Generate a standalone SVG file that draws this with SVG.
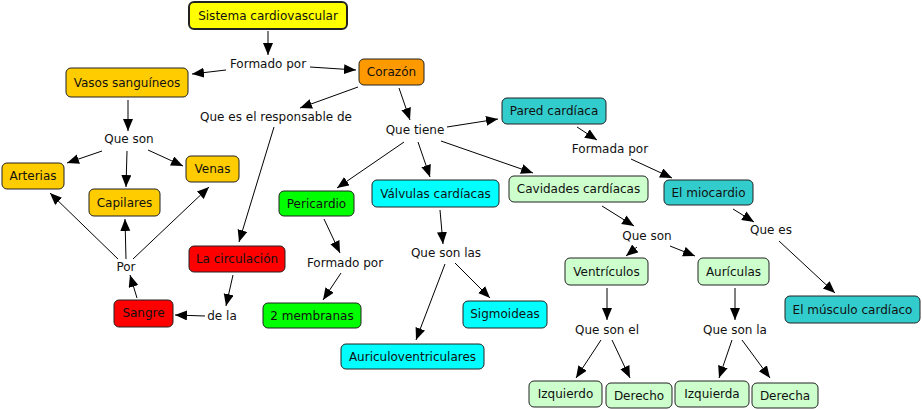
<svg xmlns="http://www.w3.org/2000/svg" width="922" height="410" viewBox="0 0 922 410">
<defs>
<marker id="ah" markerUnits="userSpaceOnUse" markerWidth="13" markerHeight="11" refX="12" refY="5" orient="auto"><path d="M0,0 L12,5 L0,10 z" fill="#000"/></marker>
<style>
.n rect{stroke:#222;stroke-width:1}
.n text,.l{font-family:"DejaVu Sans",Verdana,sans-serif;font-size:12px;fill:#111;text-anchor:middle;dominant-baseline:central}
#conn line{stroke:#000;stroke-width:1;marker-end:url(#ah)}
</style>
</defs>
<rect width="922" height="410" fill="#fff"/>
<g id="conn">
<line x1="268" y1="31" x2="268" y2="55"/>
<line x1="226" y1="70" x2="192" y2="74"/>
<line x1="310" y1="67" x2="356" y2="70"/>
<line x1="358" y1="87" x2="300" y2="108"/>
<line x1="399" y1="88" x2="410" y2="120"/>
<line x1="128" y1="100" x2="128" y2="131"/>
<line x1="102" y1="151" x2="67" y2="163"/>
<line x1="127" y1="151" x2="126" y2="187"/>
<line x1="148" y1="150" x2="183" y2="166"/>
<line x1="274" y1="127" x2="239" y2="242"/>
<line x1="233" y1="275" x2="226" y2="306"/>
<line x1="205" y1="316" x2="175" y2="315"/>
<line x1="137" y1="298" x2="130" y2="275"/>
<line x1="118" y1="259" x2="50" y2="193"/>
<line x1="126" y1="259" x2="125" y2="219"/>
<line x1="133" y1="259" x2="209" y2="187"/>
<line x1="404" y1="142" x2="337" y2="188"/>
<line x1="418" y1="142" x2="430" y2="177"/>
<line x1="441" y1="141" x2="533" y2="173"/>
<line x1="447" y1="127" x2="498" y2="119"/>
<line x1="577" y1="127" x2="597" y2="140"/>
<line x1="631" y1="159" x2="672" y2="178"/>
<line x1="324" y1="219" x2="340" y2="253"/>
<line x1="341" y1="273" x2="323" y2="300"/>
<line x1="440" y1="210" x2="443" y2="244"/>
<line x1="445" y1="264" x2="416" y2="340"/>
<line x1="455" y1="263" x2="490" y2="298"/>
<line x1="602" y1="206" x2="634" y2="226"/>
<line x1="637" y1="247" x2="626" y2="256"/>
<line x1="670" y1="246" x2="695" y2="256"/>
<line x1="733" y1="209" x2="754" y2="222"/>
<line x1="779" y1="241" x2="835" y2="293"/>
<line x1="607" y1="288" x2="607" y2="320"/>
<line x1="735" y1="288" x2="735" y2="320"/>
<line x1="601" y1="340" x2="576" y2="378"/>
<line x1="612" y1="340" x2="630" y2="378"/>
<line x1="732" y1="340" x2="719" y2="378"/>
<line x1="742" y1="340" x2="770" y2="378"/>
</g>
<g id="labels">
<text class="l" x="268" y="64">Formado por</text>
<text class="l" x="276" y="117">Que es el responsable de</text>
<text class="l" x="415" y="130">Que tiene</text>
<text class="l" x="129" y="139">Que son</text>
<text class="l" x="126" y="267">Por</text>
<text class="l" x="222" y="316">de la</text>
<text class="l" x="345" y="263">Formado por</text>
<text class="l" x="446" y="253">Que son las</text>
<text class="l" x="610" y="149">Formada por</text>
<text class="l" x="771" y="230">Que es</text>
<text class="l" x="647" y="236">Que son</text>
<text class="l" x="607" y="330">Que son el</text>
<text class="l" x="735" y="330">Que son la</text>
</g>
<g id="n-sistema" class="n"><rect x="189" y="2" width="158" height="27" rx="5" fill="#FFFF00" style="stroke-width:2"/><text x="268" y="15.5">Sistema cardiovascular</text></g>
<g id="n-vasos" class="n"><rect x="66" y="68" width="122" height="29" rx="5" fill="#FFCC00"/><text x="127" y="82.5">Vasos sanguíneos</text></g>
<g id="n-corazon" class="n"><rect x="359" y="59" width="65" height="26" rx="5" fill="#FF9900"/><text x="391.5" y="72">Corazón</text></g>
<g id="n-arterias" class="n"><rect x="2" y="163" width="62" height="26" rx="5" fill="#FFCC00"/><text x="33" y="176">Arterias</text></g>
<g id="n-venas" class="n"><rect x="186" y="156" width="53" height="26" rx="5" fill="#FFCC00"/><text x="212.5" y="169">Venas</text></g>
<g id="n-capilares" class="n"><rect x="89" y="189" width="71" height="27" rx="5" fill="#FFCC00"/><text x="124.5" y="202.5">Capilares</text></g>
<g id="n-circulacion" class="n"><rect x="189" y="246" width="96" height="26" rx="5" fill="#FF0000"/><text x="237" y="259">La circulación</text></g>
<g id="n-sangre" class="n"><rect x="114" y="300" width="59" height="27" rx="5" fill="#FF0000"/><text x="143.5" y="313">Sangre</text></g>
<g id="n-pericardio" class="n"><rect x="279" y="191" width="75" height="25" rx="5" fill="#00FF00"/><text x="316.5" y="203.5">Pericardio</text></g>
<g id="n-membranas" class="n"><rect x="263" y="303" width="98" height="25" rx="5" fill="#00FF00"/><text x="312" y="315.5">2 membranas</text></g>
<g id="n-valvulas" class="n"><rect x="372" y="180" width="127" height="27" rx="5" fill="#00FFFF"/><text x="435.5" y="193.5">Válvulas cardíacas</text></g>
<g id="n-auriculov" class="n"><rect x="341" y="344" width="143" height="25" rx="5" fill="#00FFFF"/><text x="412.5" y="356.5">Auriculoventriculares</text></g>
<g id="n-sigmoideas" class="n"><rect x="463" y="301" width="84" height="27" rx="5" fill="#00FFFF"/><text x="505" y="314">Sigmoideas</text></g>
<g id="n-cavidades" class="n"><rect x="509" y="176" width="139" height="26" rx="5" fill="#CCFFCC"/><text x="578.5" y="189">Cavidades cardíacas</text></g>
<g id="n-pared" class="n"><rect x="502" y="98" width="104" height="26" rx="5" fill="#33CCCC"/><text x="554" y="111">Pared cardíaca</text></g>
<g id="n-miocardio" class="n"><rect x="664" y="180" width="89" height="25" rx="5" fill="#33CCCC"/><text x="708.5" y="192.5">El miocardio</text></g>
<g id="n-musculo" class="n"><rect x="785" y="296" width="135" height="27" rx="5" fill="#33CCCC"/><text x="852.5" y="309.5">El músculo cardíaco</text></g>
<g id="n-ventriculos" class="n"><rect x="565" y="258" width="83" height="27" rx="5" fill="#CCFFCC"/><text x="606.5" y="271.5">Ventrículos</text></g>
<g id="n-auriculas" class="n"><rect x="698" y="258" width="71" height="27" rx="5" fill="#CCFFCC"/><text x="733.5" y="271.5">Aurículas</text></g>
<g id="n-izquierdo" class="n"><rect x="529" y="381" width="73" height="26" rx="5" fill="#CCFFCC"/><text x="565.5" y="394">Izquierdo</text></g>
<g id="n-derecho" class="n"><rect x="606" y="383" width="66" height="25" rx="5" fill="#CCFFCC"/><text x="639" y="395.5">Derecho</text></g>
<g id="n-izquierda" class="n"><rect x="675" y="381" width="74" height="26" rx="5" fill="#CCFFCC"/><text x="712" y="394">Izquierda</text></g>
<g id="n-derecha" class="n"><rect x="752" y="383" width="66" height="25" rx="5" fill="#CCFFCC"/><text x="785" y="395.5">Derecha</text></g>
</svg>
